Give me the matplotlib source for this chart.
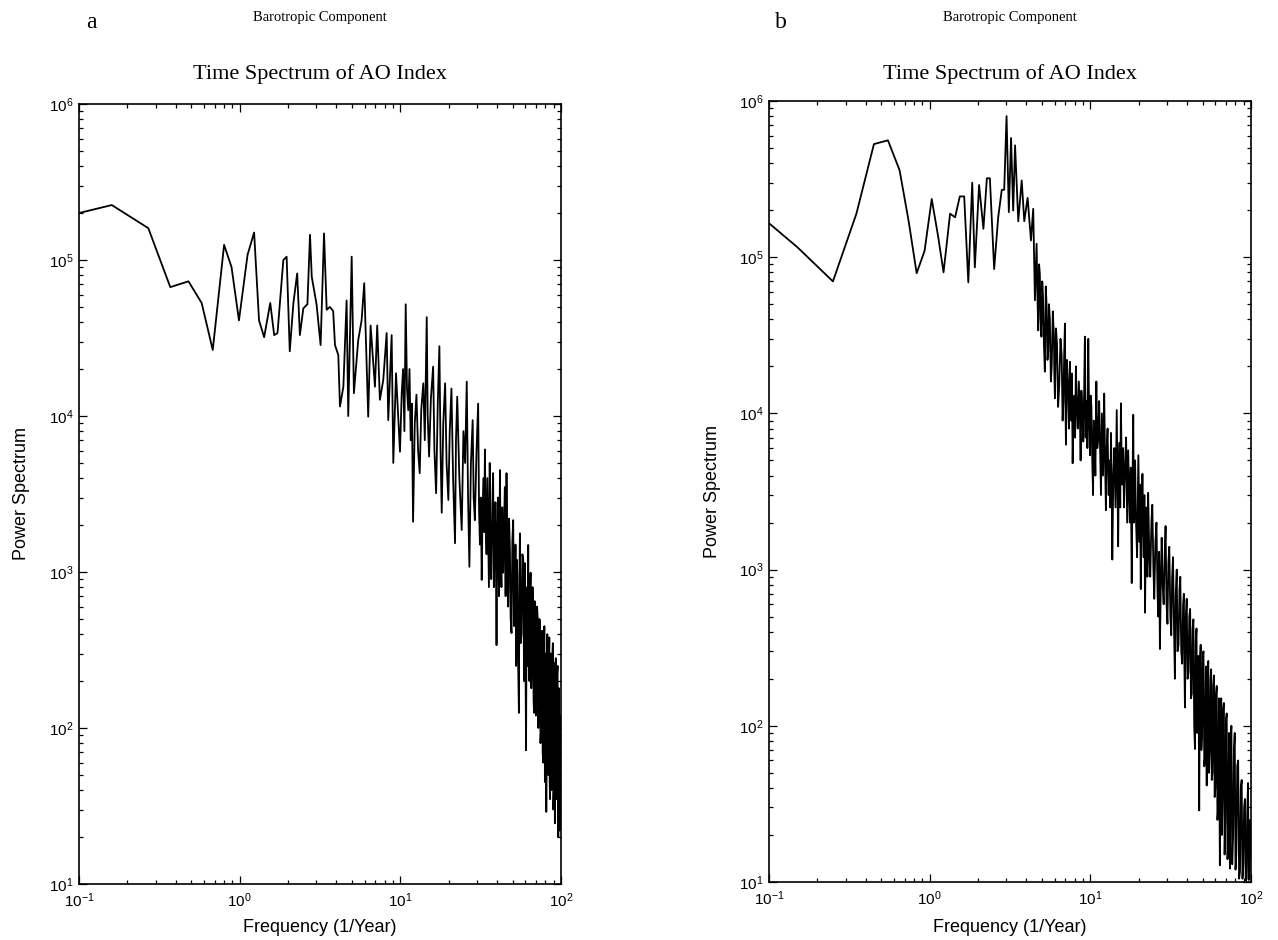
import matplotlib
matplotlib.use("Agg")
import matplotlib.pyplot as plt


OUT_PNG = "out.png"

# panel a: power spectrum (frequency in 1/year)
FREQ_A = [
    0.10, 0.16, 0.27, 0.37, 0.48, 0.58, 0.68, 0.80, 0.89, 0.99,
    1.12, 1.23, 1.32, 1.42, 1.55, 1.64, 1.72, 1.87, 1.96, 2.05,
    2.16, 2.28, 2.37, 2.49, 2.64, 2.74, 2.81, 3.01, 3.19, 3.35,
    3.48, 3.65, 3.82, 3.92, 4.11, 4.21, 4.42, 4.63, 4.74, 4.98,
    5.14, 5.47, 5.74, 5.96, 6.31, 6.53, 6.95, 7.18, 7.46, 7.83,
    8.22, 8.41, 8.83, 9.04, 9.40, 9.95, 10.2, 10.4, 10.6, 10.8,
    11.0, 11.2, 11.4, 11.6, 11.8, 12.0, 12.3, 12.6, 12.9, 13.2,
    13.5, 13.9, 14.2, 14.6, 14.8, 15.1, 15.5, 16.0, 16.3, 16.7,
    17.1, 17.5, 17.8, 18.1, 18.5, 19.0, 19.4, 19.9, 20.3, 20.8,
    21.3, 21.9, 22.2, 22.6, 23.3, 24.1, 24.7, 25.3, 25.9, 26.4,
    26.9, 27.5, 28.2, 28.6, 29.1, 29.8, 30.5, 30.9, 31.3, 31.7,
    32.1, 32.5, 33.0, 33.3, 33.6, 34.0, 34.4, 34.8, 35.2, 35.6,
    36.0, 36.4, 36.8, 37.3, 37.8, 38.2, 38.6, 39.1, 39.7, 40.1,
    40.6, 41.1, 41.7, 42.1, 42.6, 43.1, 43.7, 44.2, 44.7, 45.2,
    45.8, 46.3, 46.9, 47.5, 48.1, 48.6, 49.2, 49.8, 50.4, 51.0,
    51.6, 52.1, 52.6, 53.0, 53.4, 54.0, 54.7, 55.1, 55.5, 56.1,
    56.8, 57.5, 58.2, 58.9, 59.6, 60.1, 60.6, 61.0, 61.5, 62.0,
    62.5, 63.0, 63.6, 64.1, 64.7, 65.3, 66.0, 66.5, 67.0, 67.5,
    68.0, 68.6, 69.2, 69.8, 70.4, 71.0, 71.6, 72.2, 72.8, 73.4,
    74.0, 74.5, 75.0, 75.6, 76.3, 76.9, 77.5, 78.1, 78.8, 79.4,
    80.0, 80.5, 81.0, 81.6, 82.2, 82.8, 83.4, 84.0, 84.6, 85.0,
    85.5, 86.0, 86.6, 87.2, 87.8, 88.4, 89.0, 89.6, 90.3, 90.9,
    91.6, 92.2, 92.8, 93.4, 94.0, 94.6, 95.2, 95.7, 96.2, 96.8,
    97.4, 98.0, 98.6, 99.1, 99.6, 100.2, 100.8,
]
POWER_A = [
    2.0e5, 2.25e5, 1.6e5, 6.7e4, 7.3e4, 5.3e4, 2.65e4, 1.25e5, 9.0e4, 4.1e4,
    1.08e5, 1.5e5, 4.1e4, 3.2e4, 5.3e4, 3.3e4, 3.4e4, 1.0e5, 1.05e5, 2.6e4,
    5.3e4, 8.2e4, 3.3e4, 4.9e4, 5.2e4, 1.45e5, 7.8e4, 5.2e4, 2.85e4, 1.48e5,
    4.8e4, 5.0e4, 4.7e4, 2.85e4, 2.46e4, 1.15e4, 1.54e4, 5.5e4, 1.0e4, 1.05e5,
    1.4e4, 3.07e4, 4.1e4, 7.1e4, 9.9e3, 3.8e4, 1.54e4, 3.8e4, 1.27e4, 1.7e4,
    3.4e4, 9.4e3, 3.3e4, 5.0e3, 1.88e4, 5.9e3, 1.4e4, 2.0e4, 8.0e3, 5.2e4,
    1.5e4, 1.09e4, 2.0e4, 7.0e3, 1.2e4, 2.1e3, 9.0e3, 1.37e4, 6.0e3, 4.3e3,
    1.1e4, 1.62e4, 7.0e3, 4.3e4, 1.0e4, 5.5e3, 1.3e4, 2.07e4, 6.0e3, 3.2e3,
    1.2e4, 2.8e4, 6.0e3, 2.4e3, 9.0e3, 1.62e4, 5.0e3, 2.9e3, 8.0e3, 1.5e4,
    4.0e3, 1.53e3, 7.0e3, 1.33e4, 4.0e3, 1.86e3, 8.0e3, 5.0e3, 1.66e4, 3.0e3,
    1.08e3, 5.0e3, 9.4e3, 3.0e3, 2.15e3, 6.0e3, 1.2e4, 2.5e3, 1.5e3, 3.0e3,
    890, 2.5e3, 4.0e3, 1.8e3, 6.1e3, 2.0e3, 1.3e3, 4.0e3, 1.77e3, 800,
    5.0e3, 1.2e3, 900, 2.5e3, 4.3e3, 800, 1.5e3, 2.8e3, 340, 1.8e3,
    3.0e3, 700, 4.5e3, 1.2e3, 800, 2.6e3, 990, 1.9e3, 3.5e3, 700,
    4.3e3, 1.5e3, 600, 2.2e3, 1.38e3, 500, 406, 1.6e3, 2.15e3, 450,
    700, 1.5e3, 250, 1.2e3, 990, 300, 125, 900, 1.77e3, 350,
    400, 1.3e3, 1.2e3, 200, 1.14e3, 300, 72, 450, 800, 250,
    1.49e3, 350, 200, 700, 990, 180, 300, 800, 600, 150,
    125, 650, 550, 120, 180, 600, 500, 100, 150, 500,
    470, 80, 93, 380, 420, 70, 60, 300, 450, 45,
    80, 300, 29, 250, 400, 70, 50, 280, 380, 45,
    35, 250, 300, 40, 60, 300, 350, 30, 40, 260,
    24.5, 200, 280, 35, 45, 220, 250, 25, 20, 180,
    150, 22, 30, 120, 80, 25, 40,
]

# panel b
FREQ_B = [
    0.10, 0.15, 0.25, 0.35, 0.45, 0.55, 0.65, 0.74, 0.83, 0.93,
    1.03, 1.13, 1.22, 1.34, 1.44, 1.54, 1.64, 1.74, 1.84, 1.91,
    2.03, 2.16, 2.27, 2.37, 2.52, 2.67, 2.81, 2.91, 3.01, 3.11,
    3.21, 3.31, 3.40, 3.56, 3.74, 3.88, 4.07, 4.27, 4.41, 4.52,
    4.63, 4.68, 4.74, 4.80, 4.85, 4.90, 4.96, 5.02, 5.07, 5.14,
    5.21, 5.28, 5.35, 5.41, 5.47, 5.53, 5.60, 5.68, 5.75, 5.84,
    5.93, 5.97, 6.02, 6.11, 6.20, 6.30, 6.40, 6.52, 6.63, 6.72,
    6.80, 6.88, 6.95, 7.00, 7.05, 7.15, 7.25, 7.36, 7.47, 7.53,
    7.60, 7.68, 7.76, 7.86, 7.95, 8.04, 8.13, 8.24, 8.35, 8.48,
    8.61, 8.70, 8.80, 8.92, 9.04, 9.15, 9.25, 9.35, 9.45, 9.58,
    9.71, 9.83, 9.95, 10.05, 10.15, 10.28, 10.4, 10.5, 10.6, 10.75,
    10.9, 11.05, 11.2, 11.35, 11.5, 11.65, 11.8, 12.0, 12.2, 12.35,
    12.5, 12.65, 12.8, 13.0, 13.2, 13.3, 13.45, 13.6, 13.7, 13.9,
    14.1, 14.35, 14.6, 14.75, 14.9, 15.05, 15.2, 15.35, 15.5, 15.65,
    15.8, 16.0, 16.2, 16.45, 16.7, 16.95, 17.2, 17.4, 17.6, 17.85,
    18.1, 18.3, 18.5, 18.65, 18.85, 19.0, 19.2, 19.55, 19.9, 20.1,
    20.25, 20.4, 20.6, 20.85, 21.1, 21.3, 21.5, 21.7, 21.9, 22.15,
    22.4, 22.65, 22.9, 23.3, 23.6, 24.0,
    24.3, 24.7, 25.0, 25.4, 25.8, 26.2, 26.5, 26.8, 27.1, 27.5,
    27.8, 28.2, 28.6, 29.0, 29.4, 29.8, 30.2, 30.6, 31.0, 31.5,
    31.9, 32.3, 32.7, 33.2, 33.6, 34.0, 34.5, 34.9, 35.4, 35.9,
    36.3, 36.8, 37.3, 37.8, 38.2, 38.5, 38.8, 39.3, 39.8, 40.3,
    40.8, 41.3, 41.8, 42.3, 42.8, 43.3, 43.8, 44.3, 44.8, 45.3,
    45.8, 46.2, 46.7, 47.1, 47.6, 48.1, 48.6, 49.1, 49.6, 50.1,
    50.6, 51.2, 51.8, 52.4, 53.0, 53.6, 54.2, 54.8, 55.4, 56.0,
    56.5, 57.0, 57.6, 58.2, 58.8, 59.4, 60.0, 60.6, 61.2, 61.8,
    62.5, 63.2, 64.0, 64.6, 65.3, 65.9, 66.5, 67.1, 67.8, 68.5,
    69.2, 69.9, 70.6, 71.4, 72.2, 73.0, 73.9, 74.7, 75.5, 76.4,
    77.4, 78.3, 79.2, 80.1, 81.0, 82.1, 83.2, 84.3, 85.4, 86.4,
    87.5, 88.5, 89.6, 90.6, 91.7, 92.7, 93.8, 94.8, 95.8, 96.8,
    97.8, 98.9, 100.0,
]
POWER_B = [
    1.65e5, 1.16e5, 7.0e4, 1.9e5, 5.3e5, 5.6e5, 3.6e5, 1.7e5, 7.9e4, 1.1e5,
    2.36e5, 1.35e5, 8.0e4, 1.9e5, 1.8e5, 2.45e5, 2.45e5, 6.9e4, 3.0e5, 8.6e4,
    2.9e5, 1.52e5, 3.2e5, 3.2e5, 8.4e4, 1.8e5, 2.7e5, 2.7e5, 8.0e5, 1.94e5,
    5.8e5, 1.99e5, 5.2e5, 1.7e5, 3.1e5, 1.7e5, 2.4e5, 1.28e5, 2.04e5, 5.3e4,
    1.22e5, 6.0e4, 3.4e4, 9.0e4, 7.8e4, 4.0e4, 3.1e4, 7.0e4, 5.8e4, 2.8e4,
    1.85e4, 6.5e4, 4.8e4, 2.2e4, 2.5e4, 5.0e4, 4.0e4, 1.6e4, 2.0e4, 4.5e4,
    3.2e4, 1.8e4, 1.25e4, 3.5e4, 2.8e4, 1.1e4, 1.5e4, 3.0e4, 2.36e4, 9.0e3,
    1.2e4, 2.5e4, 3.76e4, 1.2e4, 6.3e3, 2.2e4, 1.6e4, 8.0e3, 2.14e4, 1.1e4,
    9.0e3, 1.8e4, 4.8e3, 1.0e4, 1.3e4, 7.0e3, 2.0e4, 1.1e4, 8.0e3, 1.6e4,
    9.5e3, 5.0e3, 1.4e4, 1.0e4, 6.6e3, 1.4e4, 3.1e4, 7.0e3, 1.2e4, 6.0e3,
    3.0e4, 9.0e3, 5.4e3, 1.3e4, 1.1e4, 5.0e3, 3.0e3, 9.0e3, 8.0e3, 4.0e3,
    1.6e4, 6.0e3, 7.0e3, 1.2e4, 5.8e3, 3.0e3, 1.0e4, 4.0e3, 1.34e4, 5.0e3,
    2.4e3, 6.0e3, 8.0e3, 3.0e3, 5.0e3, 2.5e3, 7.5e3, 3.0e3, 1.16e3, 4.0e3,
    6.0e3, 2.5e3, 1.05e4, 4.0e3, 1.41e3, 4.5e3, 6.5e3, 2.5e3, 1.16e4, 5.0e3,
    3.5e3, 6.0e3, 2.5e3, 4.5e3, 7.0e3, 2.0e3, 5.8e3, 3.5e3, 2.0e3, 4.5e3,
    820, 3.5e3, 9.8e3, 2.0e3, 3.0e3, 5.0e3, 2.2e3, 1.2e3, 5.4e3, 2.5e3,
    1.5e3, 3.5e3, 750, 2.0e3, 4.1e3, 2.0e3, 1.2e3, 3.0e3, 530, 1.8e3,
    2.5e3, 900, 3.1e3, 1.2e3, 900, 2.0e3,
    2.6e3, 1.0e3, 650, 1.5e3, 2.0e3, 700, 500, 1.3e3, 310, 900,
    1.6e3, 800, 600, 1.2e3, 1.9e3, 600, 450, 1.1e3, 1.4e3, 500,
    380, 900, 1.2e3, 400, 200, 700, 1.0e3, 300, 330, 750,
    900, 300, 250, 600, 700, 250, 131, 500, 650, 200,
    220, 500, 560, 150, 160, 420, 480, 100, 71, 350,
    420, 90, 120, 280, 28.7, 250, 330, 70, 90, 280,
    300, 55, 65, 240, 41.5, 200, 260, 50, 70, 200,
    230, 45, 50, 180, 210, 35, 40, 160, 180, 25,
    30, 150, 12.8, 120, 150, 20, 35, 130, 140, 15,
    25, 110, 120, 14, 18, 90, 12.2, 80, 100, 13,
    20, 70, 90, 12, 15, 55, 60, 10.5, 11.6, 40,
    45, 10.5, 13, 30, 34, 10.2, 10.5, 28, 43, 10.3,
    11, 25, 14,
]

X_LIM = (0.1, 100)
Y_LIM = (10, 1e6)
PANEL_LETTERS = ["a", "b"]
SUPTITLE = "Barotropic Component"
TITLE = "Time Spectrum of AO Index"
XLABEL = "Frequency (1/Year)"
YLABEL = "Power Spectrum"

W, H = 1278, 940


def style_axes(ax):
    ax.set_xscale("log")
    ax.set_yscale("log")
    ax.set_xlim(*X_LIM)
    ax.set_ylim(*Y_LIM)
    ax.tick_params(which="both", direction="in", top=True, right=True,
                   labelsize=11, width=0.9)
    ax.tick_params(which="major", length=6)
    ax.tick_params(which="minor", length=3)
    ax.tick_params(axis="x", pad=5)
    ax.tick_params(axis="y", pad=4)
    for spine in ax.spines.values():
        spine.set_linewidth(1.2)


def draw_panel(fig, rect, freq, power, letter):
    left, top, right, bottom = rect
    ax = fig.add_axes([left / W, 1 - bottom / H, (right - left) / W, (bottom - top) / H])
    ax.plot(freq, power, color="black", lw=1.3)
    style_axes(ax)

    cx = (left + right) / 2 / W
    fig.text(cx, 1 - 18 / H, SUPTITLE, ha="center", va="center",
             family="Liberation Serif", fontsize=10.5)
    fig.text(cx, 1 - 74 / H, TITLE, ha="center", va="center",
             family="Liberation Serif", fontsize=16)
    fig.text((left + 12) / W, 1 - 22 / H, letter, ha="center", va="center",
             family="Liberation Serif", fontsize=17)
    fig.text(cx, 1 - 928 / H, XLABEL, ha="center", va="center", fontsize=13)
    fig.text((left - 57) / W, 1 - (top + bottom) / 2 / H, YLABEL, rotation=90,
             ha="center", va="center", fontsize=13)
    return ax


def main():
    assert len(FREQ_A) == len(POWER_A), (len(FREQ_A), len(POWER_A))
    assert len(FREQ_B) == len(POWER_B), (len(FREQ_B), len(POWER_B))
    plt.rcParams["font.family"] = ["Liberation Sans", "DejaVu Sans"]

    fig = plt.figure(figsize=(W / 100, H / 100), dpi=100)
    draw_panel(fig, (79, 104, 561, 884), FREQ_A, POWER_A, PANEL_LETTERS[0])
    draw_panel(fig, (769, 101, 1251, 882), FREQ_B, POWER_B, PANEL_LETTERS[1])
    fig.savefig(OUT_PNG, dpi=100)


if __name__ == "__main__":
    main()
